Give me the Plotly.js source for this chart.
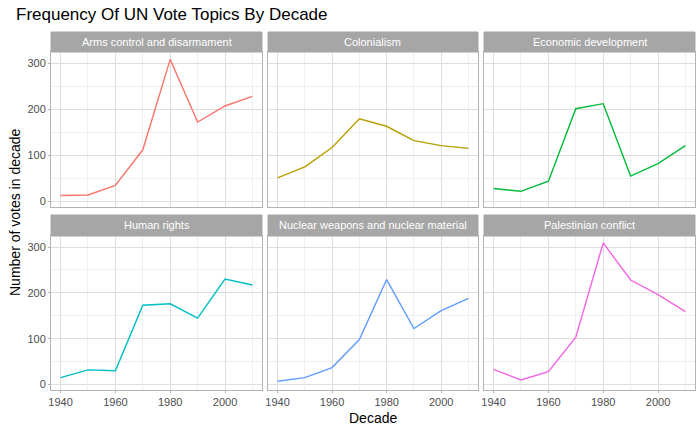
<!DOCTYPE html>
<html>
<head>
<meta charset="utf-8">
<script src="https://cdn.plot.ly/plotly-3.0.1.min.js"></script>
</head>
<body style="margin:0">
<div id="chart" style="width:700px;height:432px"></div>
<script>
// Decades on the x axis
var decades = [1940, 1950, 1960, 1970, 1980, 1990, 2000, 2010];

// Topic names (facet order)
var topics = ['Arms control and disarmament', 'Colonialism', 'Economic development',
              'Human rights', 'Nuclear weapons and nuclear material', 'Palestinian conflict'];

// Votes per decade for each topic
var armsControl  = [13, 14, 35, 112, 308, 172, 207, 228];
var colonialism  = [51, 75, 117, 179, 163, 132, 121, 115];
var economic     = [28, 22, 44, 201, 212, 55, 82, 121];
var humanRights  = [15, 32, 30, 173, 176, 145, 230, 217];
var nuclear      = [7, 15, 37, 98, 229, 122, 161, 188];
var palestinian  = [33, 10, 28, 103, 309, 228, 196, 159];

var series = [armsControl, colonialism, economic, humanRights, nuclear, palestinian];
var colors = ['#F8766D', '#B79F00', '#00BA38', '#00BFC4', '#619CFF', '#F564E3'];

var W = 700, H = 432;
var cols = [[51, 262], [268, 478], [484, 695]];
var rows = [[52, 207], [236, 390]];
var strips = [[32, 52], [215, 236]];

var data = [];
var layout = {
    width: W, height: H,
    margin: {l: 0, r: 0, t: 0, b: 0},
    paper_bgcolor: 'white', plot_bgcolor: 'white',
    showlegend: false,
    font: {family: 'Liberation Sans, Arial, sans-serif'},
    shapes: [], annotations: []
};

for (var i = 0; i < 6; i++) {
    var c = i % 3, r = Math.floor(i / 3);
    var n = i + 1;
    var xa = 'xaxis' + (n === 1 ? '' : n), ya = 'yaxis' + (n === 1 ? '' : n);
    data.push({
        x: decades, y: series[i], type: 'scatter', mode: 'lines',
        line: {color: colors[i], width: 1.4},
        xaxis: 'x' + (n === 1 ? '' : n), yaxis: 'y' + (n === 1 ? '' : n)
    });
    layout[xa] = {
        domain: [cols[c][0] / W, cols[c][1] / W],
        anchor: 'y' + (n === 1 ? '' : n),
        range: [1936.5, 2013.5], dtick: 20, tick0: 1940,
        showticklabels: r === 1,
        ticks: r === 1 ? 'outside' : '', ticklen: 2, tickcolor: '#b3b3b3',
        tickfont: {size: 11, color: '#4d4d4d'},
        gridcolor: '#DEDEDE', gridwidth: 0.8,
        minor: {dtick: 10, showgrid: true, gridcolor: '#EFEFEF', gridwidth: 0.6},
        zeroline: false, showline: true, mirror: true, linecolor: '#b3b3b3', linewidth: 1
    };
    layout[ya] = {
        domain: [1 - rows[r][1] / H, 1 - rows[r][0] / H],
        anchor: 'x' + (n === 1 ? '' : n),
        range: [-12, 324], dtick: 100, tick0: 0,
        showticklabels: c === 0,
        ticks: c === 0 ? 'outside' : '', ticklen: 2, tickcolor: '#b3b3b3',
        tickfont: {size: 11, color: '#4d4d4d'},
        gridcolor: '#DEDEDE', gridwidth: 0.8,
        minor: {dtick: 50, showgrid: true, gridcolor: '#EFEFEF', gridwidth: 0.6},
        zeroline: false, showline: true, mirror: true, linecolor: '#b3b3b3', linewidth: 1
    };
    // Facet strip
    layout.shapes.push({
        type: 'rect', xref: 'paper', yref: 'paper',
        x0: cols[c][0] / W, x1: cols[c][1] / W,
        y0: 1 - strips[r][1] / H, y1: 1 - strips[r][0] / H,
        fillcolor: '#A6A6A6', line: {color: '#A6A6A6', width: 1}
    });
    layout.annotations.push({
        text: topics[i], xref: 'paper', yref: 'paper', showarrow: false,
        x: (cols[c][0] + cols[c][1]) / 2 / W,
        y: 1 - (strips[r][0] + strips[r][1]) / 2 / H,
        xanchor: 'center', yanchor: 'middle',
        font: {size: 11, color: 'white'}
    });
}

// Titles
layout.annotations.push({
    text: 'Frequency Of UN Vote Topics By Decade', xref: 'paper', yref: 'paper',
    x: 14 / W, y: 1 - 15 / H, xanchor: 'left', yanchor: 'middle', showarrow: false,
    font: {size: 17, color: 'black'}
});
layout.annotations.push({
    text: 'Decade', xref: 'paper', yref: 'paper',
    x: (51 + 695) / 2 / W, y: 1 - 418 / H, xanchor: 'center', yanchor: 'middle', showarrow: false,
    font: {size: 14, color: 'black'}
});
layout.annotations.push({
    text: 'Number of votes in decade', xref: 'paper', yref: 'paper', textangle: -90,
    x: 15 / W, y: 1 - 212 / H, xanchor: 'center', yanchor: 'middle', showarrow: false,
    font: {size: 14, color: 'black'}
});

Plotly.newPlot('chart', data, layout, {displayModeBar: false});
</script>
</body>
</html>
